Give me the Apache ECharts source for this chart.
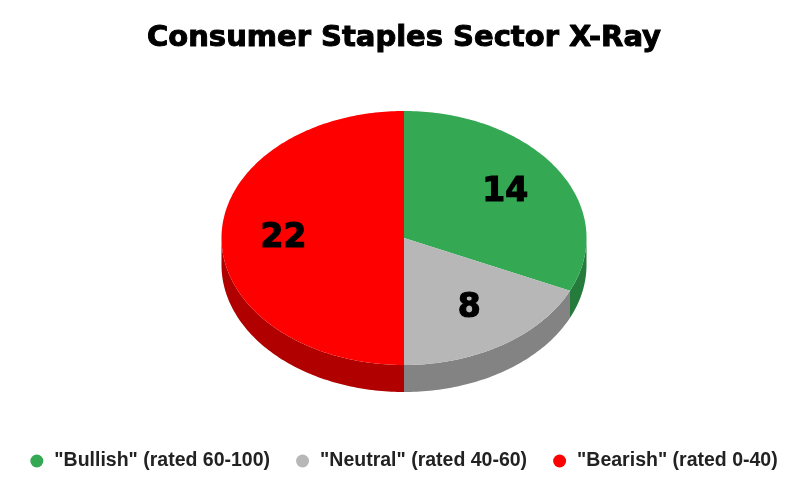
<!DOCTYPE html>
<html>
<head>
<meta charset="utf-8">
<script src="https://cdn.jsdelivr.net/npm/echarts@6/dist/echarts.min.js"></script>
<style>
    html, body { margin: 0; padding: 0; background: #fff; }
    #main { width: 808px; height: 493px; }
</style>
</head>
<body>
<div id="main"></div>
<script>
// 数据
var categories = ['"Bullish" (rated 60-100)', '"Neutral" (rated 40-60)', '"Bearish" (rated 0-40)'];
var counts = [14, 8, 22];
var topColors = ['#35a853', '#b7b7b7', '#ff0000'];
var sideColors = ['#257b3b', '#838383', '#b00000'];

var total = counts.reduce(function (a, b) { return a + b; }, 0);

// 椭圆参数 (伪3D饼图)
var RX = 182.5, RY = 127, DEPTH = 27, CY = 238, LABEL_R = 0.66;

function pt(cx, cy, deg, dy) {
    var r = deg * Math.PI / 180;
    return [cx + RX * Math.sin(r), cy - RY * Math.cos(r) + (dy || 0)];
}

function renderSlice(params, api) {
    var idx = params.dataIndex;
    var cx = api.getWidth() / 2;
    var before = 0;
    for (var i = 0; i < idx; i++) before += counts[i];
    var a0 = before / total * 360;
    var a1 = (before + api.value(1)) / total * 360;
    var children = [];

    // 侧面 (只画前半圈 90°~270°)
    var s0 = Math.max(a0, 90), s1 = Math.min(a1, 270);
    if (s1 > s0) {
        var side = [];
        for (var d = s0; d <= s1; d += 1) side.push(pt(cx, CY, d));
        side.push(pt(cx, CY, s1));
        for (var d2 = s1; d2 >= s0; d2 -= 1) side.push(pt(cx, CY, d2, DEPTH));
        side.push(pt(cx, CY, s0, DEPTH));
        children.push({
            type: 'polygon',
            shape: { points: side },
            style: { fill: sideColors[idx] }
        });
    }

    // 顶面
    var top = [[cx, CY]];
    for (var d3 = a0; d3 <= a1; d3 += 1) top.push(pt(cx, CY, d3));
    top.push(pt(cx, CY, a1));
    children.push({
        type: 'polygon',
        shape: { points: top },
        style: { fill: topColors[idx] },
        z2: 10
    });

    // 数值标签
    var mid = (a0 + a1) / 2 * Math.PI / 180;
    children.push({
        type: 'text',
        x: cx + RX * LABEL_R * Math.sin(mid),
        y: CY - RY * LABEL_R * Math.cos(mid),
        z2: 20,
        style: {
            text: String(api.value(1)),
            fill: '#000',
            stroke: '#000',
            lineWidth: 1.2,
            font: 'bold 33px "DejaVu Sans"',
            align: 'center',
            verticalAlign: 'middle'
        }
    });
    return { type: 'group', children: children };
}

var myChart = echarts.init(document.getElementById('main'));
myChart.setOption({
    animation: false,
    backgroundColor: '#fff',
    title: {
        left: 'center',
        top: 19,
        text: 'Consumer Staples Sector X-Ray',
        textStyle: {
            fontFamily: 'DejaVu Sans',
            fontWeight: 'bold',
            fontSize: 29,
            color: '#000',
            textBorderColor: '#000',
            textBorderWidth: 1
        }
    },
    legend: {
        bottom: 17,
        left: 'center',
        icon: 'circle',
        itemWidth: 13,
        itemHeight: 13,
        itemGap: 26,
        textStyle: {
            fontFamily: 'Liberation Sans',
            fontWeight: 'bold',
            fontSize: 19.5,
            color: '#222',
            padding: [0, 0, 0, 6]
        },
        data: categories
    },
    series: [
        {
            // 只用于图例
            type: 'pie',
            radius: [0, 0],
            silent: true,
            label: { show: false },
            data: categories.map(function (c, i) {
                return { name: c, value: counts[i], itemStyle: { color: topColors[i] } };
            })
        },
        {
            type: 'custom',
            coordinateSystem: 'none',
            renderItem: renderSlice,
            data: counts.map(function (v, i) { return [i, v]; })
        }
    ]
});
</script>
</body>
</html>
